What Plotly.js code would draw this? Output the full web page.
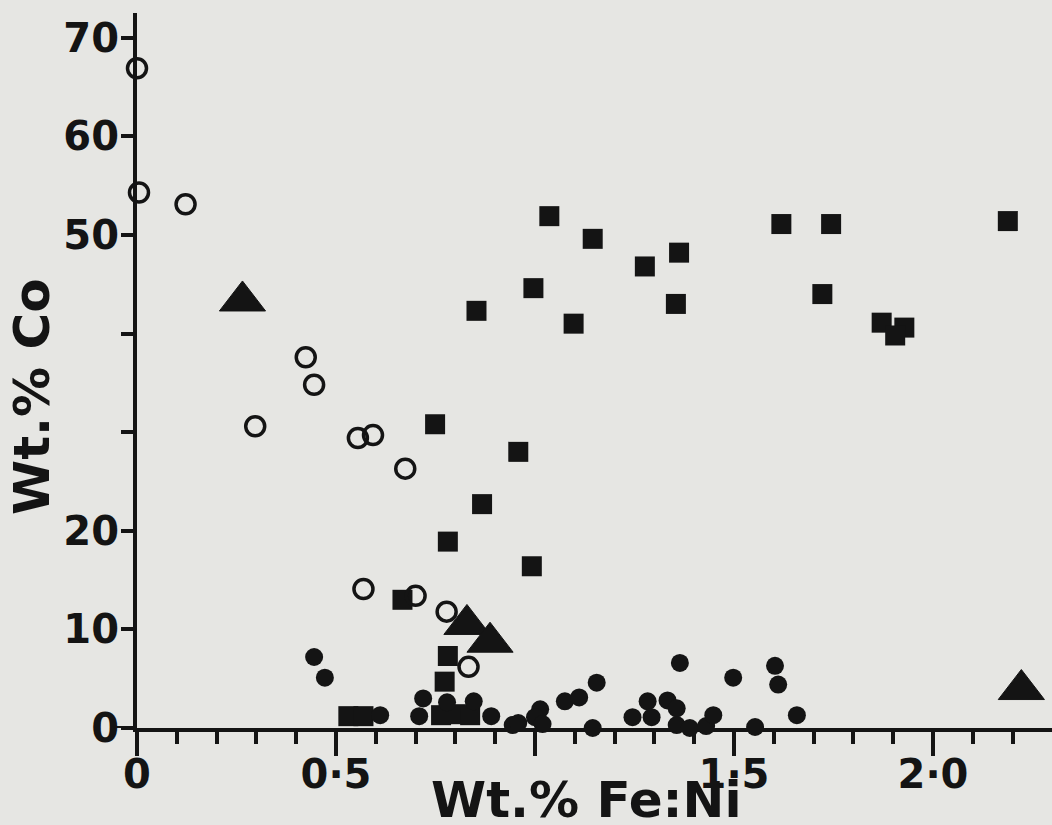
<!DOCTYPE html>
<html>
<head>
<meta charset="utf-8">
<script src="https://cdn.plot.ly/plotly-3.0.1.min.js"></script>
<style>html,body{margin:0;padding:0;background:#e6e6e3;}</style>
</head>
<body>
<div id="chart" style="width:1052px;height:825px;"></div>
<script>
// Open circles
const openX = [0.00, 0.005, 0.122, 0.424, 0.445, 0.297, 0.555, 0.593, 0.674, 0.569, 0.700, 0.778, 0.833];
const openY = [66.9, 54.3, 53.1, 37.6, 34.8, 30.6, 29.4, 29.7, 26.3, 14.1, 13.4, 11.8, 6.2];

// Filled squares
const sqX = [1.036, 1.145, 1.362, 1.276, 0.996, 1.354, 0.853, 1.097, 0.749, 0.958, 0.867, 0.781, 0.992,
             1.619, 1.744, 2.188, 1.722, 1.871, 1.928, 1.905, 0.667, 0.781, 0.773,
             0.531, 0.569, 0.764, 0.801, 0.837];
const sqY = [51.9, 49.6, 48.2, 46.8, 44.6, 43.0, 42.3, 41.0, 30.8, 28.0, 22.7, 18.9, 16.4,
             51.1, 51.1, 51.4, 44.0, 41.1, 40.6, 39.8, 13.0, 7.3, 4.7,
             1.2, 1.2, 1.3, 1.4, 1.3];

// Filled triangles
const triX = [0.265, 0.829, 0.887, 2.222];
const triY = [43.3, 10.5, 8.7, 3.9];

// Filled circles
const dotX = [0.445, 0.472, 0.611, 0.719, 0.709, 0.779, 0.846, 0.890, 0.944, 0.958, 1.013, 1.000, 1.019,
              1.075, 1.111, 1.155, 1.145, 1.245, 1.283, 1.293, 1.333, 1.356, 1.364, 1.356, 1.389,
              1.430, 1.448, 1.498, 1.553, 1.603, 1.611, 1.658];
const dotY = [7.2, 5.1, 1.3, 3.0, 1.2, 2.6, 2.7, 1.2, 0.3, 0.5, 1.9, 1.1, 0.4,
              2.7, 3.1, 4.6, 0.0, 1.1, 2.7, 1.1, 2.8, 2.0, 6.6, 0.3, 0.0,
              0.2, 1.3, 5.1, 0.1, 6.3, 4.4, 1.3];

// Tick labels
const xTickVals = [0, 0.5, 1.0, 1.5, 2.0];
const xTickText = ['0', '0·5', '', '1·5', '2·0'];
const yTickVals = [0, 10, 20, 30, 40, 50, 60, 70];
const yTickText = ['0', '10', '20', '', '', '50', '60', '70'];

const xTitle = 'Wt.% Fe:Ni';
const yTitle = 'Wt.% Co';

const ink = '#141414';
const FONT = 'DejaVu Sans, sans-serif';
const titleFont = {family: FONT, size: 50, color: ink, weight: 'bold'};

const traces = [
  {x: sqX, y: sqY, type: 'scatter', mode: 'markers', cliponaxis: false, name: 'squares',
   marker: {symbol: 'square', size: 20, color: ink, line: {width: 0}}},
  {x: dotX, y: dotY, type: 'scatter', mode: 'markers', cliponaxis: false, name: 'dots',
   marker: {symbol: 'circle', size: 18, color: ink, line: {width: 0}}},
  {x: openX, y: openY, type: 'scatter', mode: 'markers', cliponaxis: false, name: 'open',
   marker: {symbol: 'circle-open', size: 19, color: ink, line: {width: 3.5, color: ink}}},
  {x: triX, y: triY, type: 'scatter', mode: 'markers', cliponaxis: false, name: 'triangles',
   marker: {symbol: 'triangle-up', size: 40, color: ink, line: {width: 1, color: ink}}}
];

const layout = {
  width: 1052, height: 825,
  margin: {l: 137, r: 0, t: 13, b: 97},
  paper_bgcolor: '#e6e6e3', plot_bgcolor: '#e6e6e3',
  showlegend: false,
  font: {family: FONT, color: ink},
  xaxis: {
    range: [0, 2.299], showgrid: false, zeroline: false,
    showline: true, linewidth: 4, linecolor: ink,
    tickmode: 'array', tickvals: xTickVals, ticktext: xTickText,
    ticks: 'outside', ticklen: 24, tickwidth: 4, tickcolor: ink,
    ticklabelstandoff: -16,
    minor: {dtick: 0.1, tick0: 0, ticks: 'outside', ticklen: 12, tickwidth: 4, tickcolor: ink, showgrid: false},
    tickfont: {family: FONT, size: 40, color: ink, weight: 'bold'}
  },
  yaxis: {
    range: [0, 72.5], showgrid: false, zeroline: false,
    showline: true, linewidth: 4, linecolor: ink,
    tickmode: 'array', tickvals: yTickVals, ticktext: yTickText,
    ticks: 'outside', ticklen: 12, tickwidth: 4, tickcolor: ink,
    ticklabelstandoff: -6,
    tickfont: {family: FONT, size: 40, color: ink, weight: 'bold'}
  },
  annotations: [
    {text: yTitle, xref: 'paper', yref: 'paper', x: -0.1148, y: 0.4643,
     xanchor: 'center', yanchor: 'middle', textangle: -90, showarrow: false,
     font: titleFont},
    {text: xTitle, xref: 'paper', yref: 'paper', x: 0.4918, y: -0.101,
     xanchor: 'center', yanchor: 'middle', showarrow: false,
     font: titleFont}
  ],
  shapes: [
    {type: 'line', xref: 'paper', yref: 'y', x0: -0.025, x1: 0, y0: 0, y1: 0,
     line: {color: ink, width: 4}}
  ]
};

Plotly.newPlot('chart', traces, layout, {displayModeBar: false, staticPlot: true});
</script>
</body>
</html>
